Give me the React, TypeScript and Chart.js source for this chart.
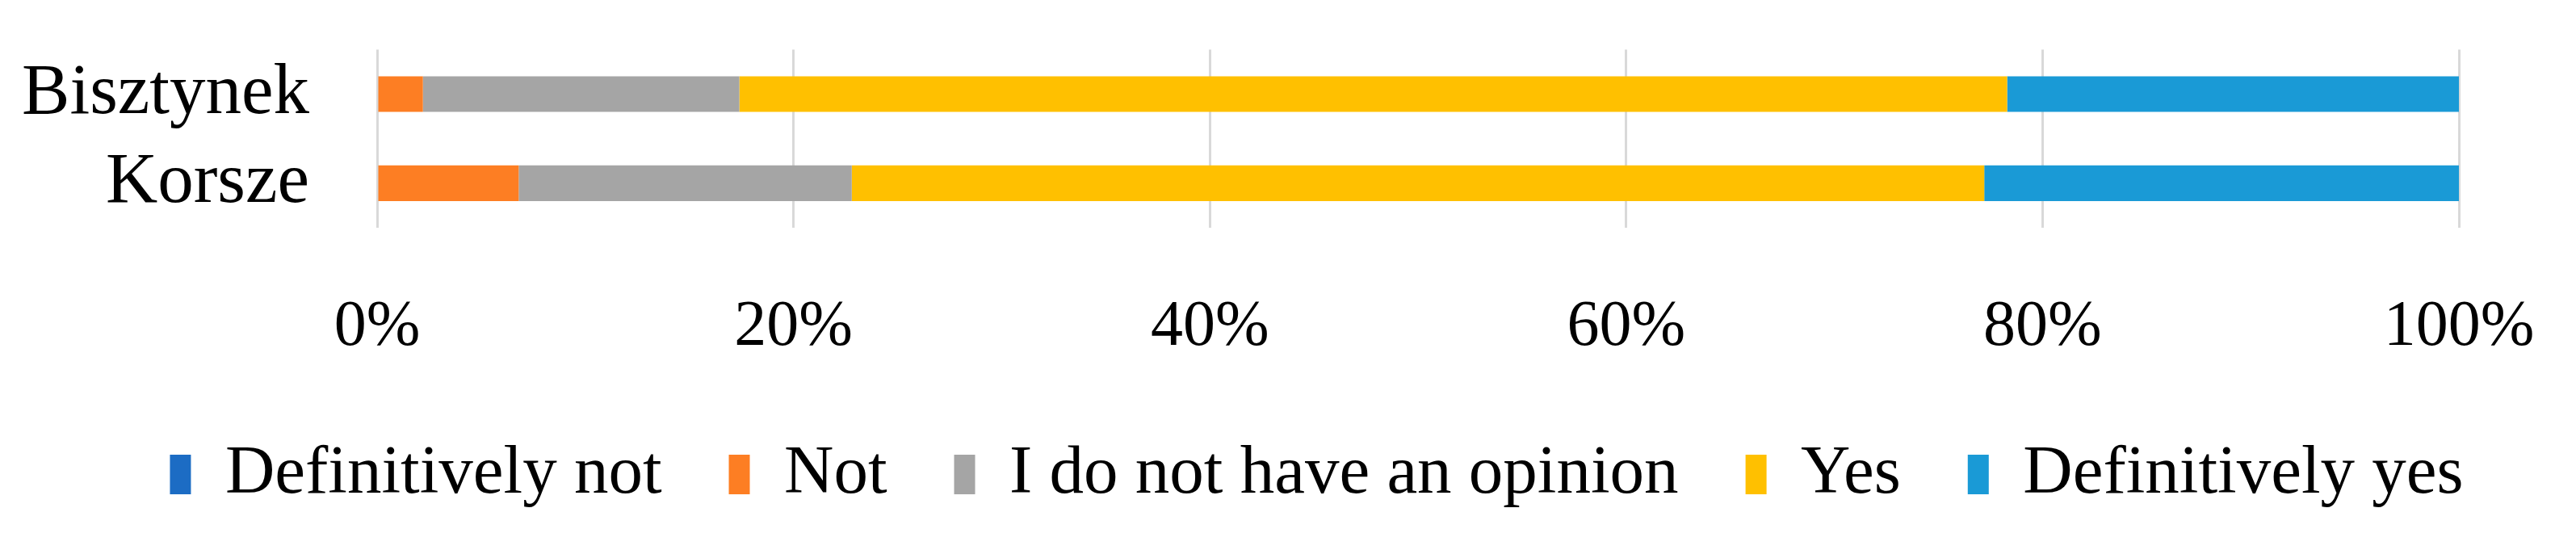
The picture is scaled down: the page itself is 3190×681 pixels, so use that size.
import React, { useEffect, useRef } from "react";
import { Chart, registerables } from "chart.js";

Chart.register(...registerables);

const categories = ["Bisztynek", "Korsze"];
const seriesNames = ["Definitively not", "Not", "I do not have an opinion", "Yes", "Definitively yes"];
const definitivelyNot = [0, 0];
const notValues = [2.2, 6.8];
const noOpinion = [15.2, 16.0];
const yesValues = [60.9, 54.4];
const definitivelyYes = [21.7, 22.8];
const seriesColors = ["#1C6CC4", "#FD7E23", "#A5A5A5", "#FFC000", "#1A9AD6"];
const xTicks = [0, 20, 40, 60, 80, 100];

const FONT = "'Liberation Serif', 'Times New Roman', serif";

const shiftLegend = {
  id: "shiftLegend",
  afterLayout(chart: any) {
    const l = chart.legend;
    if (l) {
      l.left += 104;
      l.right += 104;
    }
  },
};

export default function App() {
  const ref = useRef<HTMLCanvasElement | null>(null);

  useEffect(() => {
    if (!ref.current) return;
    const values = [definitivelyNot, notValues, noOpinion, yesValues, definitivelyYes];
    const chart = new Chart(ref.current, {
      type: "bar",
      data: {
        labels: categories,
        datasets: seriesNames.map((name, i) => ({
          label: name,
          data: values[i],
          backgroundColor: seriesColors[i],
          borderWidth: 0,
          categoryPercentage: 0.4,
          barPercentage: 1.0,
        })),
      },
      options: {
        indexAxis: "y",
        responsive: true,
        maintainAspectRatio: false,
        animation: false,
        layout: { autoPadding: false, padding: { top: 50, right: 137, bottom: 33, left: 0 } },
        plugins: {
          tooltip: { enabled: false },
          legend: {
            position: "bottom",
            labels: {
              color: "#000",
              font: { family: FONT, size: 85 },
              boxWidth: 26,
              boxHeight: 49,
              padding: 83,
            },
          },
        },
        scales: {
          x: {
            stacked: true,
            min: 0,
            max: 100,
            afterBuildTicks: (s: any) => {
              s.ticks = xTicks.map((v) => ({ value: v }));
            },
            afterFit: (s: any) => {
              s.height = 180;
            },
            grid: {
              color: "#D9D9D9",
              lineWidth: 3,
              drawTicks: true,
              tickLength: 76,
              tickColor: "rgba(0,0,0,0)",
            },
            border: { display: false },
            ticks: {
              padding: 0,
              color: "#000",
              font: { family: FONT, size: 80 },
              maxRotation: 0,
              autoSkip: false,
              callback: (v: any) => v + "%",
            },
          },
          y: {
            stacked: true,
            afterFit: (s: any) => {
              s.width = 459;
            },
            grid: {
              display: true,
              drawOnChartArea: false,
              drawTicks: true,
              tickLength: 84,
              color: "rgba(0,0,0,0)",
            },
            border: { display: false },
            ticks: {
              padding: 0,
              autoSkip: false,
              color: "#000",
              font: { family: FONT, size: 89 },
            },
          },
        },
      },
      plugins: [shiftLegend],
    });
    return () => chart.destroy();
  }, []);

  return (
    <div style={{ position: "relative", width: "3174px", height: "665px" }}>
      <canvas ref={ref} />
    </div>
  );
}
